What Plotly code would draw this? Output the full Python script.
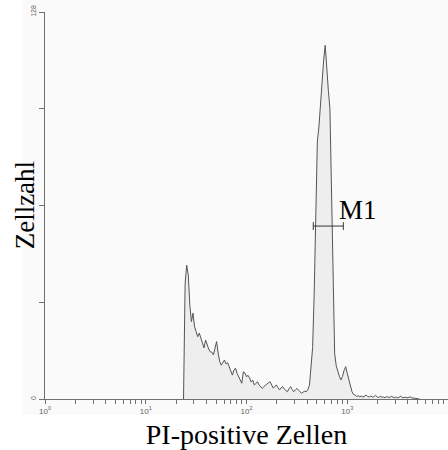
import math
import plotly.graph_objects as go

# ---- data ----
first_channel = 88          # histogram channel of the first listed count (256 channels over 4 decades)
counts = [
    0, 38, 44.3, 41, 31, 25.6, 28.4, 23.9, 22.3, 20.6,          # 88-97
    21.8, 20.2, 19, 16.9, 19.5, 17.9, 16.5, 15.6, 15.5, 14.6,    # 98-107
    17, 19, 15.2, 12.3, 11.2, 12, 12.9, 11.6, 12, 10.7,          # 108-117
    9, 7.9, 9.5, 10.2, 8.5, 7.4, 6.2, 5.2, 9.0, 8.6,             # 118-127
    7.4, 7.8, 6.9, 5.6, 6.2, 4.6, 5.2, 5.7, 4.6, 4.2,            # 128-137
    3.5, 4.1, 4.6, 5.0, 5.4, 5.7, 4.6, 3.6, 4.2, 4.6,            # 138-147
    3.8, 3.0, 3.7, 4.1, 3.3, 2.8, 2.4, 3.4, 4.1, 3.2,            # 148-157
    2.4, 3.0, 3.5, 2.9, 2.4, 1.9, 2.3, 2.6, 2.4, 3.1,            # 158-167
    4.6, 9.6, 17, 35, 62, 85, 90, 97, 107, 112,                  # 168-177
    117, 108, 102, 96, 70, 32, 15, 11, 9, 7.5,                   # 178-187
    6.3, 7.5, 9.5, 10.7, 8.5, 6.3, 4, 2.4, 1.5, 1.3,             # 188-197
    0.8, 1.1, 0.7, 1.0, 0.6, 0.9, 1.3, 0.8, 0.7, 1.0,            # 198-207
    0.6, 0.8, 1.2, 0.7, 0.5, 0.9, 0.6, 0.7, 0.4, 0.8,            # 208-217
    0.6, 0.5, 0.9, 0.5, 0.4, 0.7, 0.4, 0.6, 1.0, 0.4,            # 218-227
    0.5, 0.6, 0.4, 0.5, 0.7, 0.4, 0.3, 0.2, 0.3, 0.1, 0,         # 228-238
]
channels_per_decade = 64

gate_label = "M1"
gate_lo, gate_hi, gate_y = 460, 914, 57.2

y_tickvals = [0, 32, 64, 96, 128]
y_ticktext = ["0", " ", " ", " ", "128"]
decades = [1, 10, 100, 1000, 10000]
decade_text = ["10<sup>0</sup>", "10<sup>1</sup>", "10<sup>2</sup>", "10<sup>3</sup>", "1"]

x_title = "PI-positive Zellen"
y_title = "Zellzahl"

# ---- build ----
xs = [10 ** ((first_channel + i) / channels_per_decade) for i in range(len(counts))]

x_tickvals, x_ticktext = [], []
for d, t in zip(decades, decade_text):
    x_tickvals.append(d)
    x_ticktext.append(t)
    if d < 10000:
        for m in range(2, 10):
            x_tickvals.append(d * m)
            x_ticktext.append(" ")

axis_col = "#707070"
serif = "Liberation Serif, Times New Roman, serif"

fig = go.Figure()
fig.add_trace(go.Scatter(
    x=xs, y=counts, mode="lines", fill="tozeroy",
    fillcolor="#eeeeee", line=dict(color="#555555", width=1),
    hoverinfo="skip", showlegend=False,
))

cap = 1.3
fig.add_trace(go.Scatter(
    x=[gate_lo, gate_hi, None, gate_lo, gate_lo, None, gate_hi, gate_hi],
    y=[gate_y, gate_y, None, gate_y - cap, gate_y + cap, None, gate_y - cap, gate_y + cap],
    mode="lines", line=dict(color="#333333", width=1),
    hoverinfo="skip", showlegend=False,
))

fig.add_annotation(
    x=math.log10(gate_hi), y=gate_y, xref="x", yref="y",
    text=gate_label, showarrow=False, xanchor="left", yanchor="bottom",
    xshift=-6, yshift=-1,
    font=dict(family=serif, size=27, color="#000000"),
)

# y-axis title placed as rotated text left of the axis
fig.add_annotation(
    x=-0.05, y=0.5, xref="paper", yref="paper",
    text=y_title, showarrow=False, textangle=-90,
    xanchor="center", yanchor="middle",
    font=dict(family=serif, size=27, color="#000000"),
)

fig.add_shape(type="rect", xref="paper", yref="paper", layer="below",
              x0=-0.055, x1=1.0, y0=-0.04, y1=1.04,
              fillcolor="#fafafa", line=dict(width=0))

fig.update_layout(
    width=448, height=450,
    margin=dict(l=45, r=0, t=12, b=51, pad=0),
    paper_bgcolor="white", plot_bgcolor="rgba(0,0,0,0)",
    xaxis=dict(
        type="log", range=[0, 4], showgrid=False, zeroline=False,
        showline=True, linecolor=axis_col, linewidth=1,
        ticks="outside", ticklen=4, tickcolor=axis_col, tickwidth=1,
        tickmode="array", tickvals=x_tickvals, ticktext=x_ticktext, tickangle=0,
        tickfont=dict(family="Arial", size=8, color="#666666"),
        title=dict(text=x_title, font=dict(family=serif, size=28, color="#000000"), standoff=9),
    ),
    yaxis=dict(
        range=[0, 128], showgrid=False, zeroline=False,
        showline=True, linecolor=axis_col, linewidth=1,
        ticks="outside", ticklen=5, tickcolor=axis_col, tickwidth=1,
        tickmode="array", tickvals=y_tickvals, ticktext=y_ticktext, tickangle=-90,
        tickfont=dict(family="Arial", size=7, color="#666666"),
    ),
)

fig.write_html("out.html")
